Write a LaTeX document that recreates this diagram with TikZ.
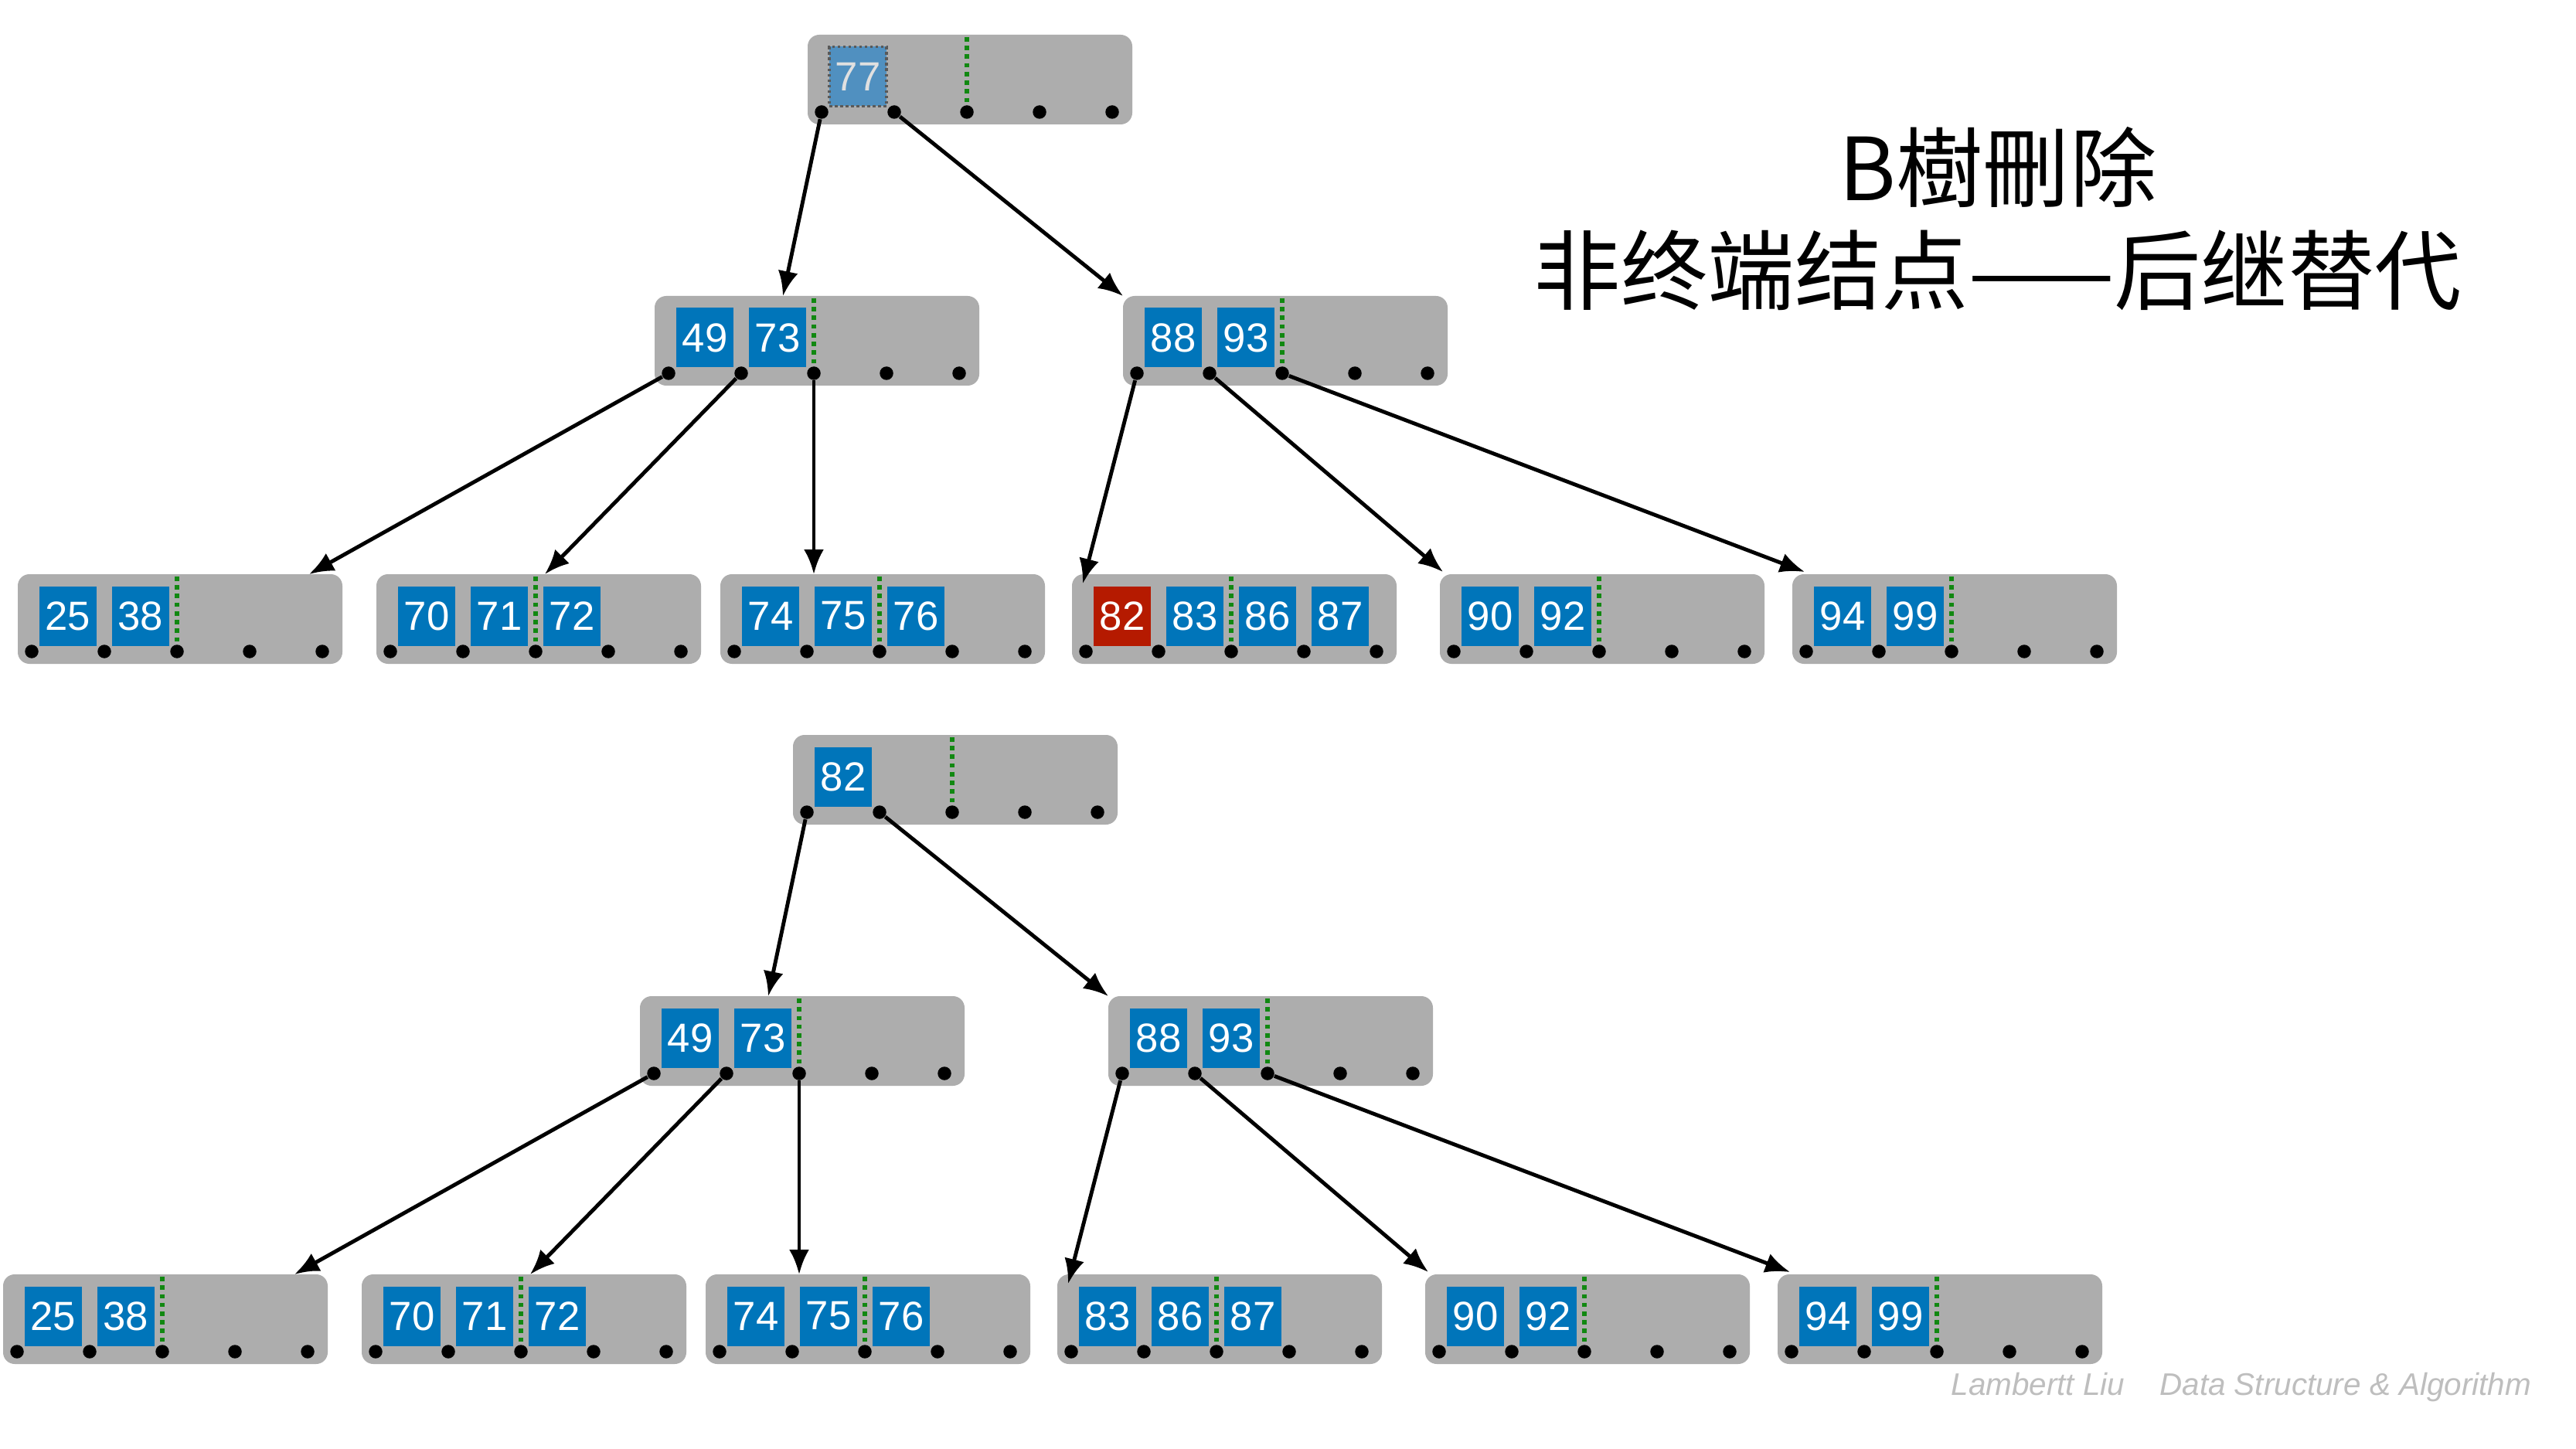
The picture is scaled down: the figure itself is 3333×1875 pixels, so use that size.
\documentclass[tikz,border=0pt]{standalone}
\usepackage{fontspec}
\setmainfont{Liberation Sans}
\newfontfamily\cjk{Noto Sans CJK SC}
\usepackage{tikz}
\usetikzlibrary{calc}
\usetikzlibrary{arrows.meta}
\definecolor{nodegray}{HTML}{ADADAD}
\definecolor{keyblue}{HTML}{0075BA}
\definecolor{keyred}{HTML}{B51A00}
\definecolor{keyfaded}{HTML}{5090C0}
\definecolor{midgreen}{HTML}{118811}
\definecolor{signgray}{HTML}{BEBEBE}
\tikzstyle{bnode}=[fill=nodegray, rounded corners=1.5mm, inner sep=0, outer sep=0, minimum width=4.2cm, minimum height=1.16cm]
\tikzstyle{key}=[fill=keyblue, text=white, inner sep=0, outer sep=0, minimum width=0.74cm, minimum height=0.77cm,
                 font=\fontsize{15pt}{15pt}\selectfont]
\tikzstyle{redkey}=[key, fill=keyred]
\tikzstyle{oldkey}=[key, fill=keyfaded, text=white!88!black, draw=black!65, densely dotted, line width=1pt]
\tikzstyle{ptr}=[circle, fill=black, inner sep=0, minimum size=1.75mm]
\tikzstyle{midline}=[draw=midgreen, line width=1.6pt, dash pattern=on 1.6pt off 1.6pt]
\tikzstyle{link}=[draw, line width=1.4pt, -{Latex[length=3.2mm, width=2.6mm]}]
% One B-tree node: name, left, top, keys as value/style.
\newcommand{\btnode}[4]{%
  \node[bnode] (#1) at (#2+210, #3+58) {};
  \foreach \k/\s [count=\i from 0] in {#4}
    \node[\s] (#1k\i) at ($(#1.north west)+(65+94*\i, 54)$) {\k};
  \draw[midline] ($(#1.north west)+(206, 3)$) -- ++(0, 97);
  \foreach \i in {0,...,4}
    \node[ptr] (#1p\i) at ($(#1.north west)+(18+94*\i, 100)$) {};
}

\begin{document}
\begin{tikzpicture}[x=0.1mm, y=-0.1mm]
  \fill[white] (0, 0) rectangle (3333, 1875);
  \useasboundingbox (0, 0) rectangle (3333, 1875);

  % Before deleting 77.
  \btnode{troot}{1045}{45}{77/oldkey}
  \btnode{tleft}{847}{383}{49/key, 73/key}
  \btnode{tright}{1453}{383}{88/key, 93/key}
  \btnode{tleaf1}{23}{743}{25/key, 38/key}
  \btnode{tleaf2}{487}{743}{70/key, 71/key, 72/key}
  \btnode{tleaf3}{932}{743}{74/key, 75/key, 76/key}
  \btnode{tleaf4}{1387}{743}{82/redkey, 83/key, 86/key, 87/key}
  \btnode{tleaf5}{1863}{743}{90/key, 92/key}
  \btnode{tleaf6}{2319}{743}{94/key, 99/key}
  \draw[link] (trootp0) -- ($(tleft.north west)+(166, 0)$);
  \draw[link] (trootp1) -- (tright.north west);
  \draw[link] (tleftp0) -- ($(tleaf1.north west)+(377, 0)$);
  \draw[link] (tleftp1) -- ($(tleaf2.north west)+(218, 0)$);
  \draw[link] (tleftp2) -- (tleftp2 |- tleaf3.north);
  \draw[link] (trightp0) -- ($(tleaf4.north west)+(14, 12)$);
  \draw[link] (trightp1) -- ($(tleaf5.north west)+(4, -3)$);
  \draw[link] (trightp2) -- ($(tleaf6.north west)+(16, -3)$);

  % After the successor 82 takes its place.
  \btnode{broot}{1026}{951}{82/key}
  \btnode{bleft}{828}{1289}{49/key, 73/key}
  \btnode{bright}{1434}{1289}{88/key, 93/key}
  \btnode{bleaf1}{4}{1649}{25/key, 38/key}
  \btnode{bleaf2}{468}{1649}{70/key, 71/key, 72/key}
  \btnode{bleaf3}{913}{1649}{74/key, 75/key, 76/key}
  \btnode{bleaf4}{1368}{1649}{83/key, 86/key, 87/key}
  \btnode{bleaf5}{1844}{1649}{90/key, 92/key}
  \btnode{bleaf6}{2300}{1649}{94/key, 99/key}
  \draw[link] (brootp0) -- ($(bleft.north west)+(166, 0)$);
  \draw[link] (brootp1) -- (bright.north west);
  \draw[link] (bleftp0) -- ($(bleaf1.north west)+(377, 0)$);
  \draw[link] (bleftp1) -- ($(bleaf2.north west)+(218, 0)$);
  \draw[link] (bleftp2) -- (bleftp2 |- bleaf3.north);
  \draw[link] (brightp0) -- ($(bleaf4.north west)+(14, 12)$);
  \draw[link] (brightp1) -- ($(bleaf5.north west)+(4, -3)$);
  \draw[link] (brightp2) -- ($(bleaf6.north west)+(16, -3)$);

  \node[font=\cjk\fontsize{32pt}{38pt}\selectfont, align=center] (title) at (2585, 283)
    {B樹刪除\\非终端结点——后继替代};
  \node[font=\itshape\fontsize{11.5pt}{13pt}\selectfont, text=signgray, anchor=base west, inner sep=0] (sign)
    at (2524, 1805) {Lambertt Liu\hspace{0.45cm}Data Structure \& Algorithm};
\end{tikzpicture}
\end{document}
